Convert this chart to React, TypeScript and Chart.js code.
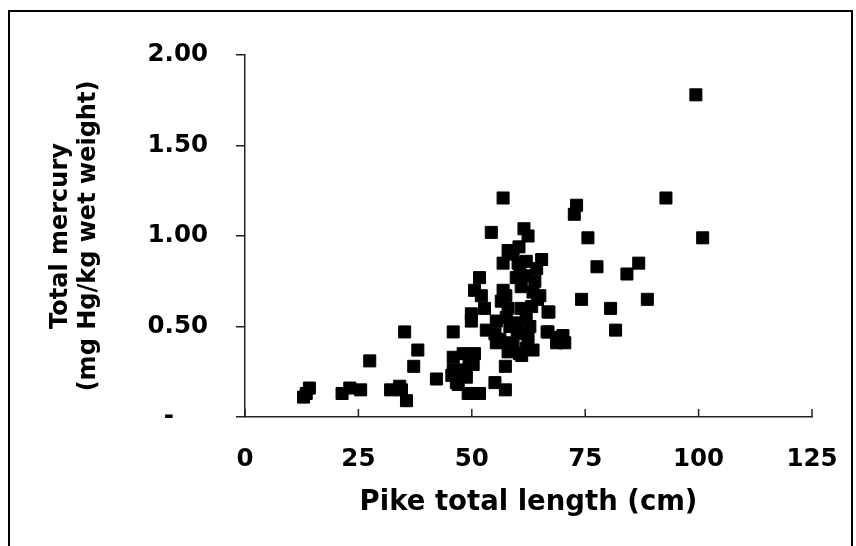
import React, { useEffect, useRef } from "react";
import { Chart, registerables } from "chart.js";

Chart.register(...registerables);

// Pike total length (cm)
const lengthCm: number[] = [
  12.9, 13.5, 14.2, 21.4, 23.1, 25.5, 27.5, 32.1, 34.1, 34.5, 35.6, 35.2, 38.1, 37.2, 42.2,
  45.9, 45.9, 45.9, 46.6, 45.6, 47.0, 48.1, 50.6, 48.1, 50.3, 48.8, 49.2, 51.7, 55.1, 57.4, 57.4, 49.4, 47.5,
  55.4, 59.1, 62.0, 63.5, 68.7, 60.5, 58.0, 61.0,
  49.9, 49.9, 52.8, 53.2, 55.1, 56.2, 58.4, 60.9, 62.4, 66.8, 68.7, 70.1, 70.5, 55.4, 57.6, 58.4, 62.0, 62.8,
  60.9, 63.2, 66.8, 56.5, 58.0, 59.5, 60.0,
  50.6, 52.1, 56.9, 57.5, 59.8, 62.0, 63.9, 60.9, 63.5, 51.7, 56.9, 59.1, 60.2, 62.0, 65.4, 60.6, 64.3, 58.0,
  60.4, 61.5, 62.4, 54.3, 56.9, 65.0, 64.5,
  72.6, 73.1, 75.6, 77.6, 86.8, 84.2, 74.2, 88.7, 80.6, 81.7, 67.0, 66.6, 92.8, 100.9, 99.4,
];

// Total mercury (mg Hg/kg wet weight)
const mercury: number[] = [
  0.11, 0.13, 0.16, 0.13, 0.16, 0.15, 0.31, 0.15, 0.17, 0.15, 0.09, 0.47, 0.37, 0.28, 0.21,
  0.47, 0.33, 0.26, 0.19, 0.23, 0.18, 0.35, 0.35, 0.26, 0.29, 0.22, 0.13, 0.13, 0.19, 0.15, 0.28, 0.30, 0.25,
  0.41, 0.39, 0.38, 0.37, 0.41, 0.35, 0.36, 0.34,
  0.57, 0.53, 0.60, 0.48, 0.46, 0.43, 0.41, 0.46, 0.44, 0.47, 0.44, 0.45, 0.41, 0.53, 0.55, 0.50, 0.55, 0.50,
  0.60, 0.61, 0.58, 0.64, 0.60, 0.52, 0.48,
  0.70, 0.67, 0.70, 0.67, 0.77, 0.78, 0.75, 0.72, 0.69, 0.77, 0.85, 0.90, 0.85, 0.86, 0.87, 0.81, 0.82, 0.92,
  0.94, 1.04, 1.00, 1.02, 1.21, 0.67, 0.65,
  1.12, 1.17, 0.99, 0.83, 0.85, 0.79, 0.65, 0.65, 0.60, 0.48, 0.58, 0.47, 1.21, 0.99, 1.78,
];

const xTickValues: number[] = [0, 25, 50, 75, 100, 125];
const yTickValues: number[] = [0, 0.5, 1, 1.5, 2];
const xTitle = "Pike total length (cm)";
const yTitle: string[] = ["Total mercury", "(mg Hg/kg wet weight)"];

const FONT = "'DejaVu Sans', sans-serif";

const innerTicks = {
  id: "innerTicks",
  afterDraw(chart: any) {
    const { ctx, chartArea } = chart;
    const x = chart.scales.x;
    ctx.save();
    ctx.strokeStyle = "#222";
    ctx.lineWidth = 1.5;
    xTickValues.forEach((v) => {
      const px = x.getPixelForValue(v);
      ctx.beginPath();
      ctx.moveTo(px, chartArea.bottom);
      ctx.lineTo(px, chartArea.bottom - 8);
      ctx.stroke();
    });
    ctx.restore();
  },
};

export default function App() {
  const ref = useRef<HTMLCanvasElement | null>(null);

  useEffect(() => {
    if (!ref.current) return;
    const data = lengthCm.map((x, i) => ({ x, y: mercury[i] }));
    const chart = new Chart(ref.current, {
      type: "scatter",
      data: {
        datasets: [
          {
            data,
            pointStyle: "rect",
            pointRadius: 8.5,
            pointHoverRadius: 8.5,
            borderWidth: 1,
            backgroundColor: "#000",
            borderColor: "#000",
          },
        ],
      },
      options: {
        responsive: false,
        animation: false,
        events: [],
        layout: { padding: { top: 55, right: 44, left: 0, bottom: 0 } },
        plugins: { legend: { display: false }, tooltip: { enabled: false } },
        scales: {
          x: {
            type: "linear",
            min: 0,
            max: 125,
            afterBuildTicks: (s: any) => {
              s.ticks = xTickValues.map((value) => ({ value }));
            },
            afterFit: (s: any) => {
              s.height = 129;
              s.paddingLeft = 0;
              s.paddingRight = 0;
            },
            ticks: {
              color: "#000",
              padding: 28,
              font: { family: FONT, weight: "bold", size: 24.5 },
            },
            grid: { display: true, drawOnChartArea: false, drawTicks: false },
            border: { display: true, color: "#222", width: 1.5 },
            title: {
              display: true,
              text: xTitle,
              color: "#000",
              font: { family: FONT, weight: "bold", size: 27.5 },
              padding: { top: 0, bottom: 27 },
            },
          },
          y: {
            type: "linear",
            min: 0,
            max: 2,
            afterBuildTicks: (s: any) => {
              s.ticks = yTickValues.map((value) => ({ value }));
            },
            afterFit: (s: any) => {
              s.width = 245;
              s.paddingTop = 0;
              s.paddingBottom = 0;
            },
            ticks: {
              color: "#000",
              padding: 28,
              font: { family: FONT, weight: "bold", size: 24.5 },
              callback: (v: any) => (Number(v) === 0 ? "-\u2007\u2007" : Number(v).toFixed(2)),
            },
            grid: {
              display: true,
              drawOnChartArea: false,
              drawTicks: true,
              tickLength: 9,
              color: "#222",
              lineWidth: 1.5,
            },
            border: { display: true, color: "#222", width: 1.5 },
            title: {
              display: true,
              text: yTitle,
              color: "#000",
              font: { family: FONT, weight: "bold", size: 24, lineHeight: 1.2 },
              padding: { top: 46, bottom: 0 },
            },
          },
        },
      },
      plugins: [innerTicks],
    } as any);
    return () => chart.destroy();
  }, []);

  return (
    <div
      style={{
        position: "fixed",
        left: 0,
        top: 0,
        width: 856,
        height: 546,
        overflow: "hidden",
        background: "#fff",
      }}
    >
      <canvas ref={ref} width={856} height={546} style={{ position: "absolute", left: 0, top: 0 }} />
      <div
        style={{
          position: "absolute",
          left: 8,
          top: 10,
          width: 845,
          height: 600,
          boxSizing: "border-box",
          border: "2px solid #000",
          pointerEvents: "none",
        }}
      />
    </div>
  );
}
